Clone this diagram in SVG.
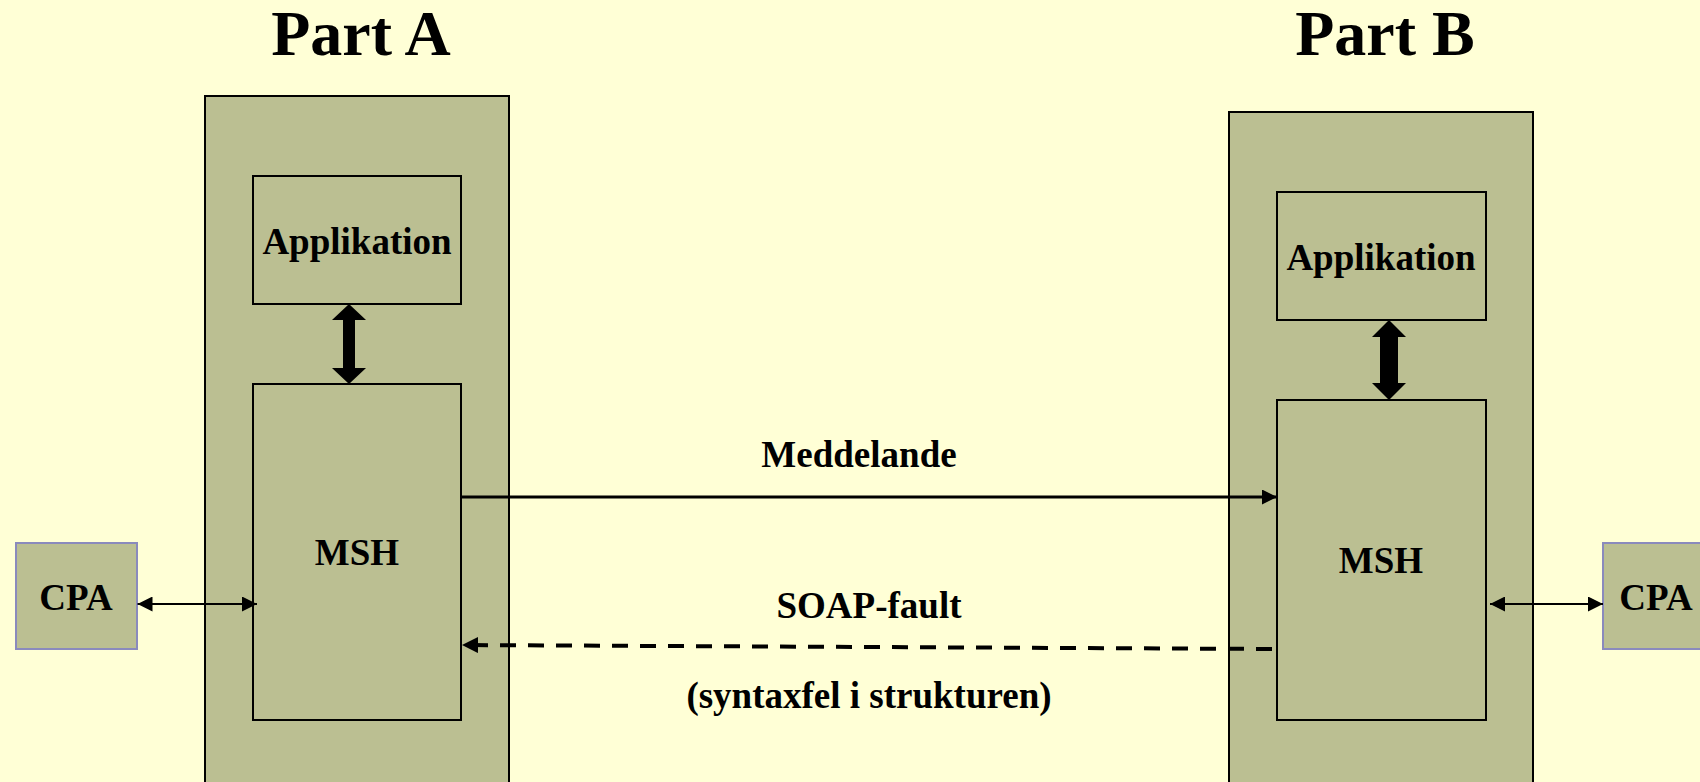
<svg xmlns="http://www.w3.org/2000/svg" width="1700" height="782" viewBox="0 0 1700 782">
<style>
.bg{fill:#FFFFD6}
.box{fill:#BBBF92;stroke:#000;stroke-width:2}
.cpa{fill:#BBBF92;stroke:#8A8ABD;stroke-width:2}
.t{font-family:"Liberation Serif","Times New Roman",serif;font-weight:bold;fill:#000;text-anchor:middle}
.l36{font-size:37px}
.l62{font-size:64px}
.ln{stroke:#000;fill:none}
</style>
<defs>
<marker id="ah" viewBox="0 0 15 15" refX="15" refY="7.5" markerWidth="15" markerHeight="15" markerUnits="userSpaceOnUse" orient="auto-start-reverse">
<path d="M0,0 L15,7.5 L0,15 Z" fill="#000"/>
</marker>
<marker id="ah16" viewBox="0 0 16 16" refX="16" refY="8" markerWidth="16" markerHeight="16" markerUnits="userSpaceOnUse" orient="auto-start-reverse">
<path d="M0,0 L16,8 L0,16 Z" fill="#000"/>
</marker>
</defs>
<rect class="bg" x="0" y="0" width="1700" height="782"/>
<text class="t l62" x="361" y="55">Part A</text>
<text class="t l62" x="1385" y="55">Part B</text>
<g id="partA">
<rect class="box" x="205" y="96" width="304" height="700"/>
</g>
<g id="partB">
<rect class="box" x="1229" y="112" width="304" height="700"/>
</g>
<g id="appA">
<rect class="box" x="253" y="176" width="208" height="128"/>
<text class="t l36" x="357" y="254">Applikation</text>
</g>
<g id="mshA">
<rect class="box" x="253" y="384" width="208" height="336"/>
<text class="t l36" x="357" y="565">MSH</text>
</g>
<g id="appB">
<rect class="box" x="1277" y="192" width="209" height="128"/>
<text class="t l36" x="1381" y="270">Applikation</text>
</g>
<g id="mshB">
<rect class="box" x="1277" y="400" width="209" height="320"/>
<text class="t l36" x="1381" y="573">MSH</text>
</g>
<g id="cpaA">
<rect class="cpa" x="16" y="543" width="121" height="106"/>
<text class="t l36" x="76" y="610">CPA</text>
</g>
<g id="cpaB">
<rect class="cpa" x="1603" y="543" width="122" height="106"/>
<text class="t l36" x="1656" y="610">CPA</text>
</g>
<g id="connectors">
<path d="M349,304 L366,320 L355,320 L355,368 L366,368 L349,384 L332,368 L343,368 L343,320 L332,320 Z" fill="#000"/>
<path d="M1389,320 L1406,337 L1398,337 L1398,383 L1406,383 L1389,400 L1372,383 L1380,383 L1380,337 L1372,337 Z" fill="#000"/>
<line class="ln" x1="461" y1="497" x2="1277" y2="497" stroke-width="3" marker-end="url(#ah)"/>
<text class="t l36" x="859" y="467">Meddelande</text>
<line class="ln" x1="1272" y1="649" x2="462" y2="645" stroke-width="4" stroke-dasharray="16 12" marker-end="url(#ah16)"/>
<text class="t l36" x="869" y="618">SOAP-fault</text>
<text class="t l36" x="869" y="708">(syntaxfel i strukturen)</text>
<line class="ln" x1="137.5" y1="604" x2="257" y2="604" stroke-width="2" marker-start="url(#ah)" marker-end="url(#ah)"/>
<line class="ln" x1="1490" y1="604" x2="1603" y2="604" stroke-width="2" marker-start="url(#ah)" marker-end="url(#ah)"/>
</g>
</svg>
